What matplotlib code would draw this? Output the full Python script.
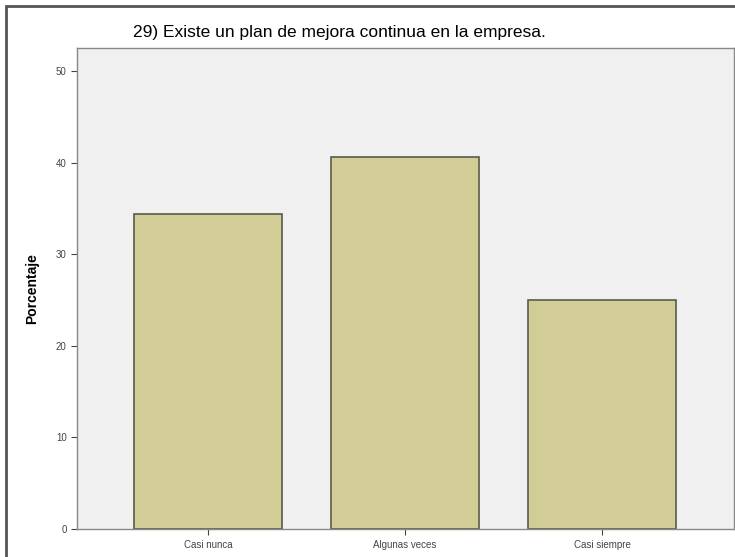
import matplotlib.pyplot as plt
from matplotlib.patches import Rectangle

categorias = ['Casi nunca', 'Algunas veces', 'Casi siempre']
porcentajes = [34.4, 40.6, 25.0]
titulo = '29) Existe un plan de mejora continua en la empresa.'

plt.rcParams['font.family'] = ['Liberation Sans', 'DejaVu Sans']

fig = plt.figure(figsize=(7.35, 5.57), dpi=100)
fig.patch.set_facecolor('white')

# marco exterior
fig.patches.append(Rectangle((6/735, -0.02), 1.1, 1 - 6/557 + 0.02, transform=fig.transFigure,
                             fill=False, edgecolor='#555555', linewidth=2))

ax = fig.add_axes([77/735, 28/557, 657/735, 481/557])
ax.set_facecolor('#F0F0F0')
x = list(range(len(categorias)))
ax.bar(x, porcentajes, width=0.75, color='#D2CD96', edgecolor='#5a5a4a', linewidth=1.2)

ax.set_xlim(-0.665, 2.67)
ax.set_ylim(0, 52.5)
ax.set_yticks([0, 10, 20, 30, 40, 50])
ax.set_xticks(x)
ax.set_xticklabels(categorias)
ax.tick_params(axis='both', labelsize=7, colors='#444444', length=4, width=0.8)
ax.tick_params(axis='x', pad=4)
for s in ax.spines.values():
    s.set_color('#888888')
    s.set_linewidth(1)

ax.set_ylabel('Porcentaje', fontsize=10, fontweight='bold', labelpad=12)

fig.text(339/735, 1 - 33/557, titulo, ha='center', va='center', fontsize=12.5)

fig.savefig('out.png', dpi=100)
